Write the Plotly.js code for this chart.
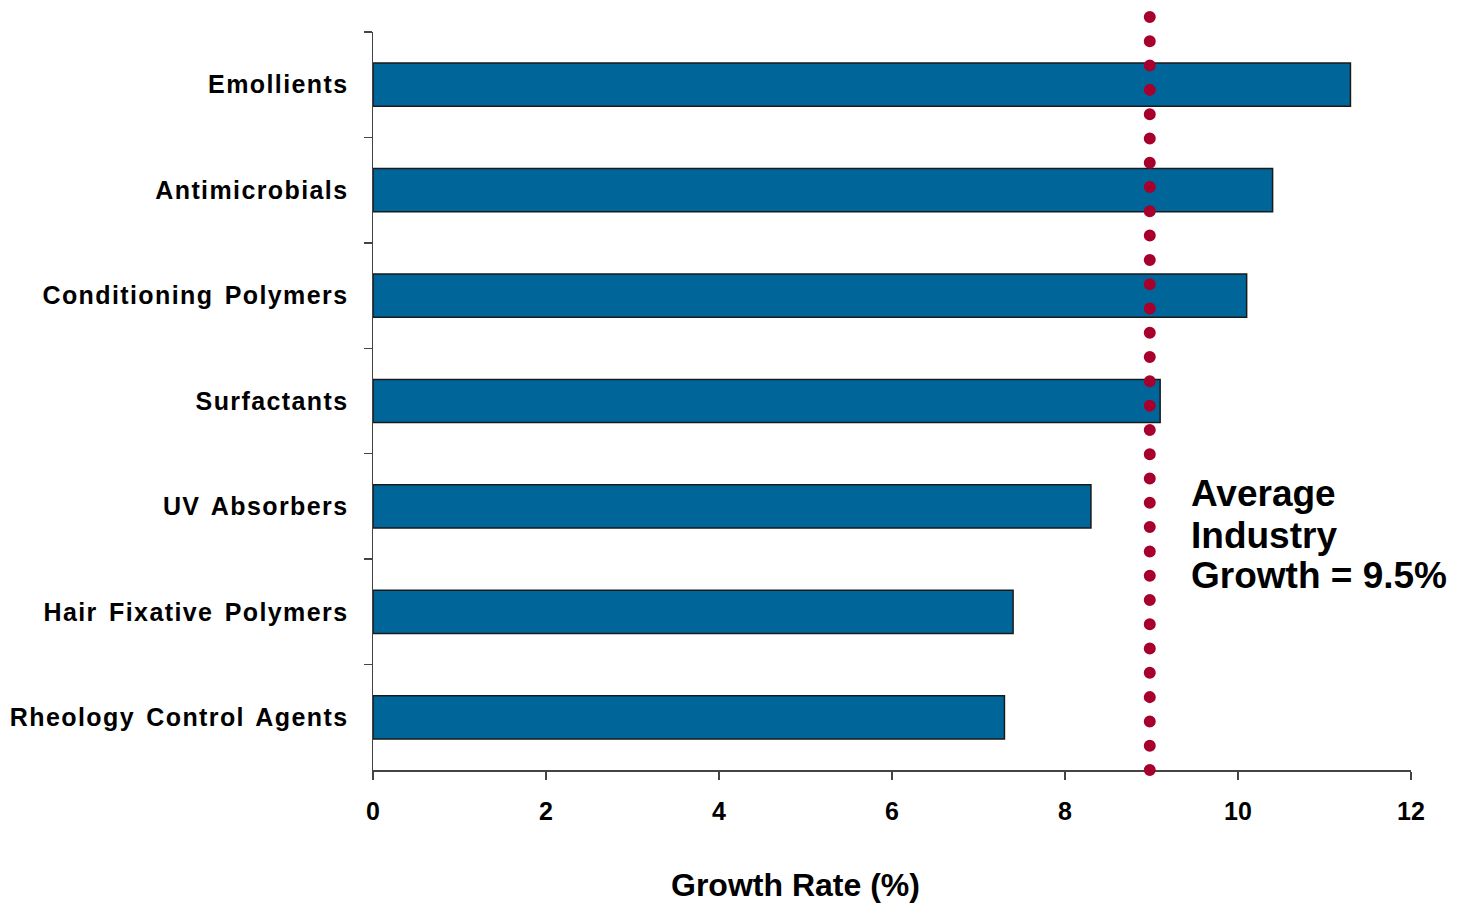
<!DOCTYPE html>
<html><head><meta charset="utf-8">
<script src="https://cdn.plot.ly/plotly-3.0.1.min.js"></script>
<style>
html,body{margin:0;padding:0;background:#fff;}
#chart{width:1460px;height:903px;}
.js-plotly-plot .shapelayer path{stroke-linecap:round;}
.js-plotly-plot .ytick text{letter-spacing:1.4px;word-spacing:3px;}
</style></head><body><div id="chart"></div>
<script>
const categories = ["Emollients","Antimicrobials","Conditioning Polymers","Surfactants","UV Absorbers","Hair Fixative Polymers","Rheology Control Agents"];
const growthRates = [11.3, 10.4, 10.1, 9.1, 8.3, 7.4, 7.3];
const averageLinePosition = 8.98;
const averageLabelLines = ["Average", "Industry", "Growth = 9.5%"];
const xTickValues = [0, 2, 4, 6, 8, 10, 12];
const xAxisTitle = "Growth Rate (%)";

const FONT = "Liberation Sans, Arial, Helvetica, sans-serif";
const axisColor = "#444444";

const trace = {
  type: "bar",
  orientation: "h",
  y: categories,
  x: growthRates,
  width: 0.41,
  marker: {color: "#006699", line: {color: "#1a1a1a", width: 1.5}},
  hoverinfo: "x+y"
};

const labelYs = [0.374, 0.3184, 0.2642];
const annotations = averageLabelLines.map((t, i) => ({
  xref: "paper", yref: "paper", x: 0.786, y: labelYs[i],
  xanchor: "left", yanchor: "middle", showarrow: false, text: t,
  font: {family: FONT, size: 37, color: "#000", weight: 700}
}));
annotations.push({
  xref: "paper", yref: "paper", x: 0.4066, y: -0.1558,
  xanchor: "center", yanchor: "middle", showarrow: false, text: xAxisTitle,
  font: {family: FONT, size: 32, color: "#000", weight: 700}
});

const layout = {
  width: 1460, height: 903,
  margin: {l: 373, r: 49, t: 32, b: 133, pad: 0},
  paper_bgcolor: "#ffffff", plot_bgcolor: "#ffffff",
  showlegend: false,
  bargap: 0.59,
  xaxis: {
    range: [0, 12], tickvals: xTickValues, ticktext: xTickValues.map(String),
    showgrid: false, zeroline: false, showline: true, linecolor: axisColor, linewidth: 1.5,
    ticks: "outside", ticklen: 8, tickwidth: 1.5, tickcolor: axisColor,
    ticklabelstandoff: 10,
    tickfont: {family: FONT, size: 25, color: "#000", weight: 700}
  },
  yaxis: {
    type: "category", categoryorder: "array", categoryarray: categories,
    range: [categories.length - 0.5, -0.5],
    showgrid: false, zeroline: false, showline: true, linecolor: axisColor, linewidth: 1.5,
    ticks: "outside", tickson: "boundaries", ticklen: 8, tickwidth: 1.5, tickcolor: axisColor,
    ticklabelstandoff: 18,
    tickfont: {family: FONT, size: 25, color: "#000", weight: 700}
  },
  shapes: [{
    type: "line", xref: "x", yref: "paper",
    x0: averageLinePosition, x1: averageLinePosition, y0: 0, y1: 1.0232,
    line: {color: "#a8002c", width: 12, dash: "0.01px,24.28px"},
    layer: "above"
  }],
  annotations: annotations
};

Plotly.newPlot("chart", [trace], layout, {displayModeBar: false, staticPlot: true});
</script></body></html>
